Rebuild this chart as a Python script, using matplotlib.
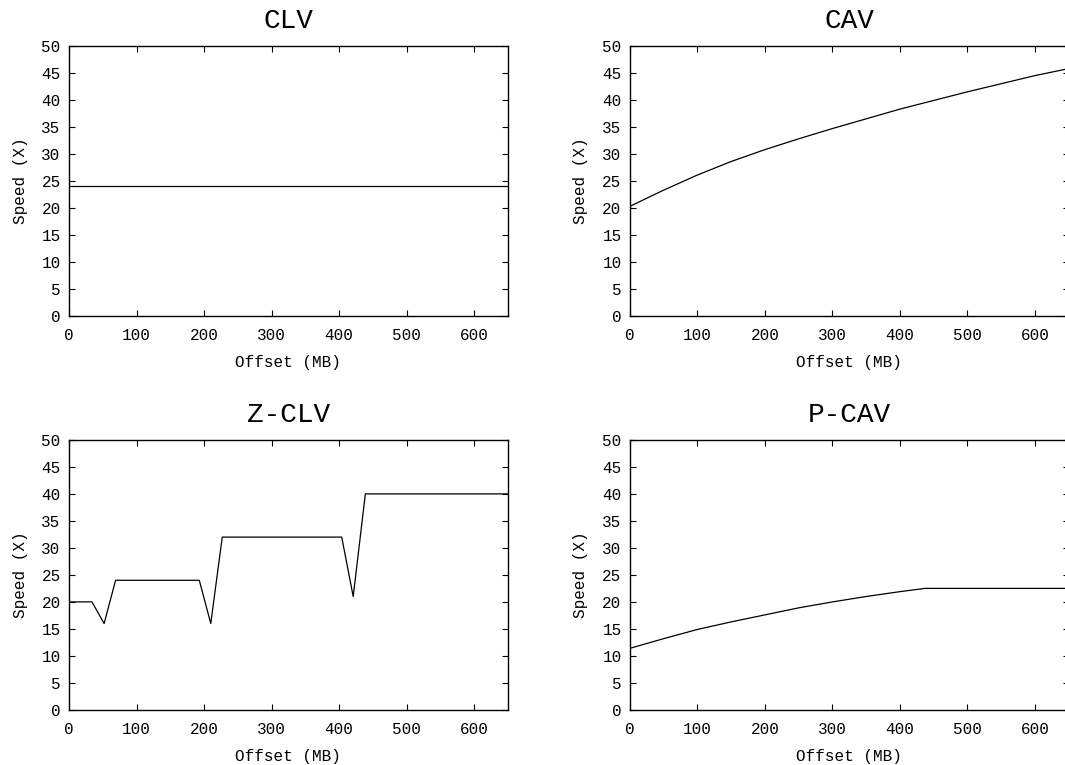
import matplotlib.pyplot as plt

plt.rcParams['font.family'] = ['Liberation Mono', 'DejaVu Sans Mono']

# constant linear velocity
clv_offset = [0, 650]
clv_speed = [24, 24]

# constant angular velocity
cav_offset = [0, 50, 100, 150, 200, 250, 300, 350, 400, 450, 500, 550, 600, 650]
cav_speed = [20.3, 23.3, 26.1, 28.6, 30.8, 32.8, 34.7, 36.5, 38.3, 39.9, 41.5, 43.0, 44.5, 45.8]

# zoned CLV
zclv_offset = [0, 34, 52, 69, 193, 210, 227, 404, 421, 439, 650]
zclv_speed = [20, 20, 16, 24, 24, 16, 32, 32, 21, 40, 40]

# partial CAV
pcav_offset = [0, 50, 100, 150, 200, 250, 300, 350, 400, 437, 650]
pcav_speed = [11.4, 13.2, 14.9, 16.3, 17.6, 18.9, 20.0, 21.0, 21.9, 22.5, 22.5]

panels = [
    ("CLV", clv_offset, clv_speed),
    ("CAV", cav_offset, cav_speed),
    ("Z-CLV", zclv_offset, zclv_speed),
    ("P-CAV", pcav_offset, pcav_speed),
]

fig = plt.figure(figsize=(10.65, 7.65), dpi=100)
lefts = [0.0648, 0.5915]
bottoms = [0.587, 0.072]
w, h = 0.412, 0.353

for i, (title, xs, ys) in enumerate(panels):
    ax = fig.add_axes([lefts[i % 2], bottoms[i // 2], w, h])
    ax.plot(xs, ys, color='black', linewidth=0.9)
    ax.set_xlim(0, 650)
    ax.set_ylim(0, 50)
    ax.set_xticks(range(0, 700, 100))
    ax.set_yticks(range(0, 55, 5))
    ax.tick_params(direction='in', top=True, right=True, length=4, width=0.8,
                   labelsize=11.5, colors='black')
    ax.tick_params(axis='x', pad=9)
    ax.tick_params(axis='y', pad=6)
    for s in ax.spines.values():
        s.set_linewidth(1.0)
    ax.set_title(title, fontsize=20, pad=13)
    ax.set_xlabel("Offset (MB)", fontsize=11.5, labelpad=8)
    ax.set_ylabel("Speed (X)", fontsize=11.5, labelpad=10)

fig.savefig("out.png", dpi=100)
